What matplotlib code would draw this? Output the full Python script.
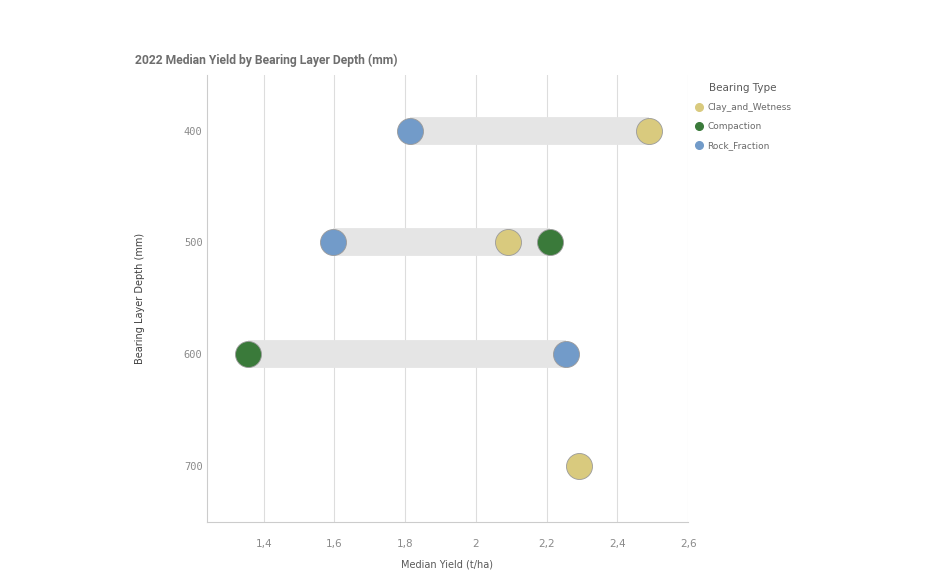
import matplotlib
matplotlib.use("Agg")
import matplotlib.pyplot as plt
from matplotlib.ticker import FuncFormatter
from matplotlib.lines import Line2D

depths = ["400", "500", "600", "700"]
series_names = ["Clay_and_Wetness", "Compaction", "Rock_Fraction"]
clay = [2.49, 2.09, None, 2.29]
compaction = [None, 2.21, 1.355, None]
rock = [1.815, 1.595, 2.255, None]
colors = ["#d9ca7e", "#3a7a3a", "#729bc9"]
x_ticks = [1.4, 1.6, 1.8, 2.0, 2.2, 2.4, 2.6]

fig = plt.figure(figsize=(9.44, 5.76), dpi=100)
ax = fig.add_axes([0.219, 0.094, 0.510, 0.776])

series = [clay, compaction, rock]
for i, d in enumerate(depths):
    vals = [s[i] for s in series if s[i] is not None]
    if len(vals) > 1:
        ax.plot([min(vals), max(vals)], [i, i], color="#e5e5e5", lw=20,
                solid_capstyle="butt", zorder=2)

for s, name, c in zip(series, series_names, colors):
    ys = [i for i, v in enumerate(s) if v is not None]
    xs = [v for v in s if v is not None]
    ax.scatter(xs, ys, s=350, color=c, edgecolor="#9a9a9a", linewidth=0.6,
               zorder=3, label=name)

ax.set_ylim(3.5, -0.5)
ax.set_xlim(1.239, 2.6)
ax.set_yticks(range(len(depths)))
ax.set_yticklabels(depths, family="DejaVu Sans Mono", fontsize=7.5, color="#8a8a8a")
ax.set_xticks(x_ticks)
ax.xaxis.set_major_formatter(FuncFormatter(lambda v, p: ("%g" % v).replace(".", ",")))
ax.tick_params(axis="x", labelsize=7.5, labelcolor="#8a8a8a", length=0, pad=12)
ax.tick_params(axis="y", length=0, pad=3)
ax.grid(axis="x", color="#dddddd", lw=0.8, zorder=0)
ax.set_axisbelow(True)
for sp in ["top", "right"]:
    ax.spines[sp].set_visible(False)
ax.spines["left"].set_color("#cccccc")
ax.spines["bottom"].set_color("#cccccc")

ax.set_xlabel("Median Yield (t/ha)", fontsize=7, color="#595959", labelpad=8)
ax.set_ylabel("Bearing Layer Depth (mm)", fontsize=7, color="#404040", labelpad=28)

fig.text(0.143, 0.896, "2022 Median Yield by Bearing Layer Depth (mm)",
         fontsize=8.7, fontweight="bold", family="Roboto", color="#6e6e6e", va="center")

handles = [Line2D([0], [0], marker="o", color="none", markerfacecolor=c,
                  markeredgecolor=c, markersize=5.5) for c in colors]
leg = fig.legend(handles, series_names, title="Bearing Type", loc="upper left",
                 bbox_to_anchor=(0.727, 0.870), frameon=False, fontsize=6.5,
                 title_fontsize=7.5, handletextpad=0.4, labelspacing=1.15,
                 handlelength=1.0, labelcolor="#6a6a6a")
leg.get_title().set_color("#595959")
leg._legend_box.sep = 7

fig.savefig("out.png", dpi=100)
